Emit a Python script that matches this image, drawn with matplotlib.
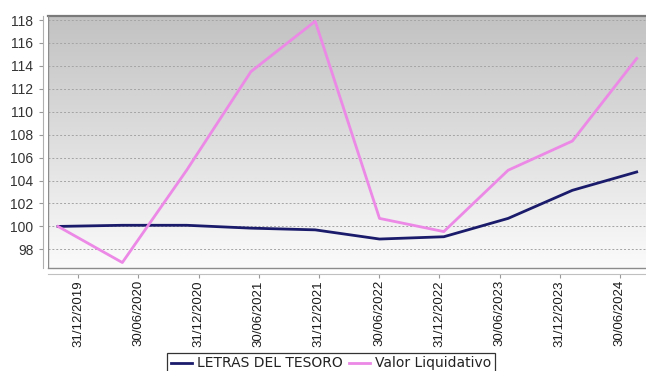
import matplotlib
matplotlib.use("Agg")
import matplotlib.pyplot as plt
import numpy as np
from matplotlib.colors import LinearSegmentedColormap
from matplotlib.lines import Line2D

# Datos
fechas = ['31/12/2019', '30/06/2020', '31/12/2020', '30/06/2021', '31/12/2021',
          '30/06/2022', '31/12/2022', '30/06/2023', '31/12/2023', '30/06/2024']
letras_tesoro = [100.0, 100.1, 100.1, 99.85, 99.7, 98.9, 99.1, 100.7, 103.15, 104.75]
valor_liquidativo = [100.0, 96.85, 104.9, 113.5, 117.9, 100.7, 99.55, 104.9, 107.45, 114.65]
ticks_y = np.arange(98, 119, 2)

plt.rcParams['font.family'] = ['Liberation Sans', 'DejaVu Sans']

W, H = 646, 371
fig = plt.figure(figsize=(W / 100, H / 100), dpi=100)
fig.patch.set_facecolor('white')

# Zona del grafico (en pixeles de la imagen)
izq, der, arriba, abajo = 48, 650, 15.7, 267.7
ax = fig.add_axes([izq / W, (H - abajo) / H, (der - izq) / W, (abajo - arriba) / H])

# Fondo degradado gris -> blanco
degradado = LinearSegmentedColormap.from_list('fondo', ['#fbfbfb', '#c2c2c2'])
ax.imshow(np.linspace(0, 1, 256).reshape(-1, 1), extent=[0, 1, 0, 1],
          transform=ax.transAxes, aspect='auto', cmap=degradado,
          origin='lower', zorder=0)

x = np.arange(len(fechas))
ax.plot(x, letras_tesoro, color='#1b1b6b', lw=2.0, zorder=3, solid_joinstyle='round')
ax.plot(x, valor_liquidativo, color='#ec88e6', lw=2.0, zorder=3, solid_joinstyle='round')

ax.set_xlim(-0.156, 9.207)
ax.set_ylim(96.4, 118.38)
ax.set_yticks(ticks_y)
ax.set_yticklabels([str(v) for v in ticks_y])
ax.yaxis.grid(True, color='#a4a4a4', linestyle=(0, (2, 2)), lw=0.7)
for gl in ax.get_ygridlines():
    gl.set_zorder(1)

ax.set_xticks([])
ax.tick_params(axis='y', length=3, color='#999999', labelsize=10,
               labelcolor='#333333', pad=4)

# Marco del grafico
ax.spines['right'].set_visible(False)
ax.spines['top'].set_color('#7a7a7a')
ax.spines['top'].set_linewidth(1.6)
ax.spines['bottom'].set_color('#8c8c8c')
ax.spines['bottom'].set_linewidth(1.0)
ax.spines['left'].set_position(('outward', 3.5))
ax.spines['left'].set_color('#b0b0b0')
ax.spines['left'].set_linewidth(0.8)
ax.axvline(ax.get_xlim()[0], color='#8c8c8c', lw=1.0, zorder=4)

# Eje de categorias (fechas)
ax2 = ax.twiny()
ax2.xaxis.set_ticks_position('bottom')
ax2.xaxis.set_label_position('bottom')
ax2.set_xlim(-0.5, len(fechas) - 0.5)
ax2.set_xticks(x)
ax2.set_xticklabels(fechas)
ax2.spines['bottom'].set_position(('outward', 4.5))
ax2.spines['bottom'].set_color('#c0c0c0')
ax2.spines['bottom'].set_linewidth(0.8)
for s in ['top', 'left', 'right']:
    ax2.spines[s].set_visible(False)
ax2.tick_params(axis='x', which='both', bottom=True, top=False,
                labelbottom=True, labeltop=False, labelrotation=90,
                labelsize=9.5, labelcolor='#1a1a1a',
                length=3, color='#999999', pad=1.5)

# Leyenda
handles = [Line2D([], [], color='#1b1b6b', lw=2.0),
           Line2D([], [], color='#ec88e6', lw=2.0)]
leg = fig.legend(handles, ['LETRAS DEL TESORO', 'Valor Liquidativo'],
                 loc='upper center', bbox_to_anchor=(331 / W, 1 - 353 / H),
                 ncol=2, frameon=True, fancybox=False, edgecolor='black',
                 handlelength=1.5, columnspacing=0.5, handletextpad=0.35,
                 borderpad=0.25, borderaxespad=0,
                 prop={'family': 'DejaVu Sans', 'size': 10})
leg.get_frame().set_linewidth(0.9)
for t in leg.get_texts():
    t.set_color('#222222')

fig.savefig('out.png', dpi=100)
